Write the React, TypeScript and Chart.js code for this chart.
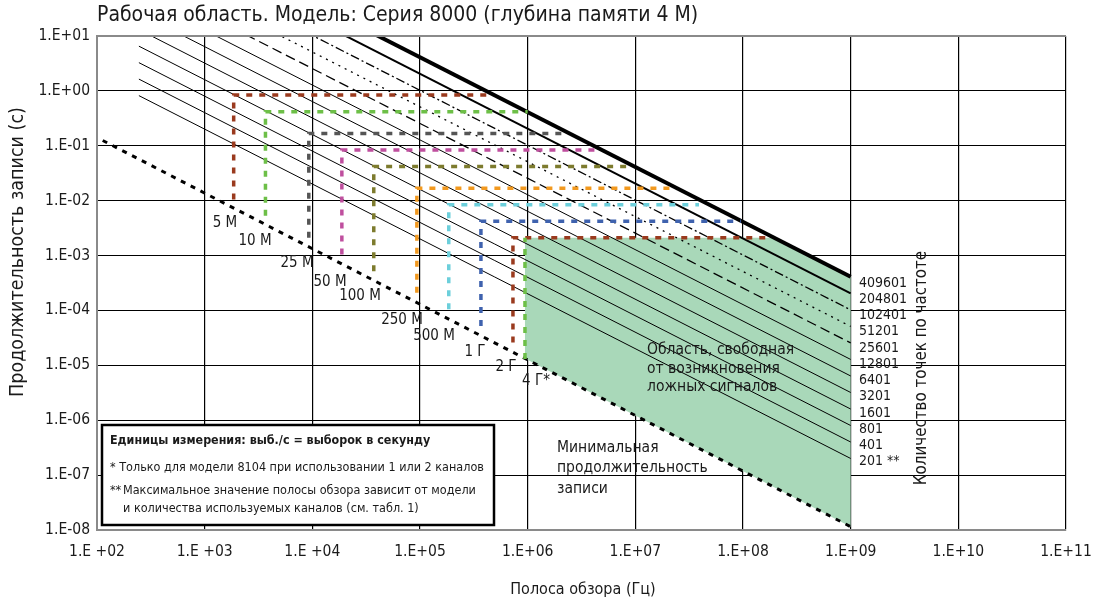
import React, { useEffect, useRef } from "react";
import { Chart, registerables } from "chart.js";

Chart.register(...registerables);

const FONT = "'Liberation Sans Narrow', 'DejaVu Sans Condensed', 'Arial Narrow', 'Roboto', sans-serif";

// ---- axes ----
const xTickValues = [1e2, 1e3, 1e4, 1e5, 1e6, 1e7, 1e8, 1e9, 1e10, 1e11];
const xTickLabels = ["1.E +02", "1.E +03", "1.E +04", "1.E+05", "1.E+06", "1.E+07", "1.E+08", "1.E+09", "1.E+10", "1.E+11"];
const yTickValues = [1e-8, 1e-7, 1e-6, 1e-5, 1e-4, 1e-3, 1e-2, 1e-1, 1e0, 1e1];
const yTickLabels = ["1.E-08", "1.E-07", "1.E-06", "1.E-05", "1.E-04", "1.E-03", "1.E-02", "1.E-01", "1.E+00", "1.E+01"];

// ---- constant point-count lines ----
const pointCountLabels = ["201 **", "401", "801", "1601", "3201", "6401", "12801", "25601", "51201", "102401", "204801", "409601"];
const lineStartFreq = 245;
const lineEndFreq = 1e9;
const lineStartDurations = [0.82, 1.64, 3.27, 6.53, 13.1, 26.1, 52.2, 104, 209, 418, 836, 1672];
const lineEndDurations = [2.01e-7, 4.01e-7, 8.01e-7, 1.6e-6, 3.2e-6, 6.4e-6, 1.28e-5, 2.56e-5, 5.12e-5, 1.024e-4, 2.048e-4, 4.096e-4];

// ---- sample-rate staircases ----
const sampleRateLabels = ["5 M", "10 M", "25 M", "50 M", "100 M", "250 M", "500 M", "1 Г", "2 Г", "4 Г*"];
const verticalFreqs = [1860, 3670, 9270, 18800, 37200, 93500, 185000, 368000, 730000, 944000];
const verticalBottomDurations = [0.0105, 0.0053, 0.0021, 0.00105, 5.2e-4, 2.1e-4, 1.05e-4, 5.2e-5, 2.6e-5, 1.3e-5];
const recordDurations = [0.839, 0.419, 0.168, 0.0839, 0.0419, 0.0168, 0.00839, 0.0042, 0.0021, 0.0021];
const horizontalEndFreqs = [4.6e5, 1.0e6, 2.1e6, 4.7e6, 9.5e6, 2.4e7, 3.9e7, 9.6e7, 1.85e8, null];
const sampleRateColors = ["#9a3a1e", "#6dbf47", "#555555", "#bf4f9e", "#7d7b2e", "#f2991f", "#6ccfdb", "#3f62ae", "#9a3a1e", "#6dbf47"];

// ---- minimum record duration ----
const minLineFreqs = [113, 1e9];
const minLineDurations = [0.125, 1.15e-8];

// ---- spurious-free region ----
const freeRegionFreqs = [944000, 944000, 1.95e8, 1e9, 1e9, 944000];
const freeRegionDurations = [1.33e-5, 0.0021, 0.0021, 4.096e-4, 1.15e-8, 1.33e-5];

function lineStyle(i: number) {
  const n = pointCountLabels.length;
  if (i === n - 1) return { borderWidth: 4, borderDash: [] as number[] };
  if (i === n - 2) return { borderWidth: 2, borderDash: [] as number[] };
  if (i === n - 3) return { borderWidth: 1.3, borderDash: [9, 3, 2, 3] };
  if (i === n - 4) return { borderWidth: 1.3, borderDash: [2, 5] };
  if (i === n - 5) return { borderWidth: 1.3, borderDash: [10, 5] };
  return { borderWidth: 1, borderDash: [] as number[] };
}

const textPlugin = {
  id: "texts",
  afterDraw(chart: any) {
    const ctx = chart.ctx as CanvasRenderingContext2D;
    const area = chart.chartArea;
    ctx.save();
    // top border
    ctx.strokeStyle = "#8a8a8a";
    ctx.lineWidth = 2;
    ctx.beginPath();
    ctx.moveTo(area.left, area.top);
    ctx.lineTo(area.right, area.top);
    ctx.stroke();

    ctx.fillStyle = "#1a1a1a";
    ctx.textBaseline = "middle";

    // Title
    ctx.textAlign = "left";
    ctx.font = `21px ${FONT}`;
    ctx.fillText("Рабочая область. Модель: Серия 8000 (глубина памяти 4 M)", 97, 16);

    // X title
    ctx.textAlign = "center";
    ctx.font = `16px ${FONT}`;
    ctx.fillText("Полоса обзора (Гц)", 583, 590);

    // Y title
    ctx.save();
    ctx.translate(18, 252);
    ctx.rotate(-Math.PI / 2);
    ctx.font = `19.5px ${FONT}`;
    ctx.fillText("Продолжительность записи (с)", 0, 0);
    ctx.restore();

    // right rotated title
    ctx.save();
    ctx.translate(922, 368);
    ctx.rotate(-Math.PI / 2);
    ctx.font = `16.8px ${FONT}`;
    ctx.fillText("Количество точек по частоте", 0, 0);
    ctx.restore();

    // point count labels
    ctx.textAlign = "left";
    ctx.font = `14px ${FONT}`;
    const n = pointCountLabels.length;
    for (let i = 0; i < n; i++) {
      const label = pointCountLabels[n - 1 - i];
      ctx.fillText(label, 859, 283 + i * 16.25);
    }

    // sample rate labels
    const srPos = [
      [225, 223], [255, 241], [297, 263], [330, 282], [360, 296],
      [402, 320], [434, 336], [475, 352], [506, 367], [536, 381],
    ];
    ctx.textAlign = "center";
    ctx.font = `15px ${FONT}`;
    sampleRateLabels.forEach((l, i) => ctx.fillText(l, srPos[i][0], srPos[i][1]));

    // region texts
    ctx.textAlign = "left";
    ctx.font = `15.5px ${FONT}`;
    ctx.fillText("Область, свободная", 647, 350);
    ctx.fillText("от возникновения", 647, 369);
    ctx.fillText("ложных сигналов", 647, 387);
    ctx.fillText("Минимальная", 557, 448);
    ctx.fillText("продолжительность", 557, 468);
    ctx.fillText("записи", 557, 489);

    // legend box
    ctx.fillStyle = "#ffffff";
    ctx.fillRect(102, 425, 392, 100);
    ctx.strokeStyle = "#000";
    ctx.lineWidth = 2.5;
    ctx.strokeRect(102, 425, 392, 100);
    ctx.fillStyle = "#1a1a1a";
    ctx.font = `bold 12.4px ${FONT}`;
    ctx.fillText("Единицы измерения: выб./с = выборок в секунду", 110, 441);
    ctx.font = `12.5px ${FONT}`;
    ctx.fillText("* Только для модели 8104 при использовании 1 или 2 каналов", 110, 468);
    ctx.fillText("**", 110, 491);
    ctx.fillText("Максимальное значение полосы обзора зависит от модели", 123, 491);
    ctx.fillText("и количества используемых каналов (см. табл. 1)", 123, 509);
    ctx.restore();
  },
};

export default function App() {
  const ref = useRef<HTMLCanvasElement | null>(null);

  useEffect(() => {
    if (!ref.current) return;
    const datasets: any[] = [];

    // spurious-free region
    datasets.push({
      data: freeRegionFreqs.map((f, i) => ({ x: f, y: freeRegionDurations[i] })),
      showLine: true,
      borderWidth: 0,
      borderColor: "rgba(0,0,0,0)",
      backgroundColor: "#a9d8b9",
      fill: "shape",
      pointRadius: 0,
      order: 100,
    });

    // point-count lines
    pointCountLabels.forEach((_, i) => {
      const st = lineStyle(i);
      datasets.push({
        data: [
          { x: lineStartFreq, y: lineStartDurations[i] },
          { x: lineEndFreq, y: lineEndDurations[i] },
        ],
        showLine: true,
        borderColor: "#000",
        borderWidth: st.borderWidth,
        borderDash: st.borderDash,
        pointRadius: 0,
        fill: false,
        order: 50,
      });
    });

    // minimum duration line
    datasets.push({
      data: minLineFreqs.map((f, i) => ({ x: f, y: minLineDurations[i] })),
      showLine: true,
      borderColor: "#000",
      borderWidth: 3,
      borderDash: [5, 6],
      pointRadius: 0,
      fill: false,
      order: 40,
    });

    // staircases
    sampleRateLabels.forEach((_, i) => {
      const pts: any[] = [
        { x: verticalFreqs[i], y: verticalBottomDurations[i] },
        { x: verticalFreqs[i], y: recordDurations[i] },
      ];
      const end = horizontalEndFreqs[i];
      if (end !== null) pts.push({ x: end, y: recordDurations[i] });
      datasets.push({
        data: pts,
        showLine: true,
        borderColor: sampleRateColors[i],
        borderWidth: 3.5,
        borderDash: [6, 7],
        pointRadius: 0,
        fill: false,
        order: 20 - i,
      });
    });

    const chart = new Chart(ref.current, {
      type: "scatter",
      data: { datasets },
      options: {
        animation: false,
        responsive: false,
        devicePixelRatio: 1,
        layout: { padding: { top: 36, right: 40, left: 0, bottom: 0 } },
        plugins: {
          legend: { display: false },
          tooltip: { enabled: false },
          title: { display: false },
        },
        scales: {
          x: {
            type: "logarithmic",
            min: 1e2,
            max: 1e11,
            afterBuildTicks: (scale: any) => {
              scale.ticks = xTickValues.map((v) => ({ value: v }));
            },
            afterFit: (scale: any) => {
              scale.height = 72;
            },
            ticks: {
              autoSkip: false,
              maxRotation: 0,
              padding: 13,
              color: "#1a1a1a",
              font: { family: FONT, size: 15.5 },
              callback: (value: any) => {
                const idx = xTickValues.findIndex((v) => Math.abs(Math.log10(v) - Math.log10(Number(value))) < 1e-6);
                return idx >= 0 ? xTickLabels[idx] : "";
              },
            },
            grid: { color: "#000", lineWidth: 1.2, drawTicks: false },
            border: { color: "#8a8a8a", width: 2 },
          },
          y: {
            type: "logarithmic",
            min: 1e-8,
            max: 1e1,
            afterBuildTicks: (scale: any) => {
              scale.ticks = yTickValues.map((v) => ({ value: v }));
            },
            afterFit: (scale: any) => {
              scale.width = 97;
            },
            ticks: {
              autoSkip: false,
              padding: 7,
              color: "#1a1a1a",
              font: { family: FONT, size: 15.5 },
              callback: (value: any) => {
                const idx = yTickValues.findIndex((v) => Math.abs(Math.log10(v) - Math.log10(Number(value))) < 1e-6);
                return idx >= 0 ? yTickLabels[idx] : "";
              },
            },
            grid: {
              color: (c: any) => (c.tick && c.tick.value >= 9.99 ? "#8a8a8a" : "#000"),
              lineWidth: (c: any) => (c.tick && c.tick.value >= 9.99 ? 2 : 1),
              drawTicks: false,
            },
            border: { color: "#8a8a8a", width: 2 },
          },
        },
      },
      plugins: [textPlugin],
    } as any);

    return () => chart.destroy();
  }, []);

  return (
    <div style={{ position: "absolute", left: 0, top: 0, width: 1106, height: 602, background: "#fff" }}>
      <canvas ref={ref} width={1106} height={602} style={{ display: "block" }} />
    </div>
  );
}
